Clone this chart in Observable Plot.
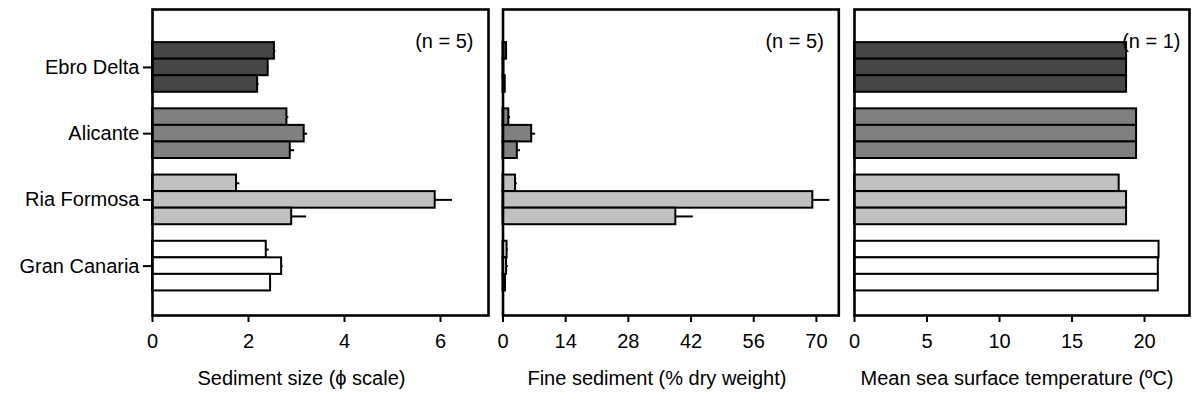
<!DOCTYPE html>
<html>
<head>
<meta charset="utf-8">
<script src="https://cdn.jsdelivr.net/npm/d3@7"></script>
<script src="https://cdn.jsdelivr.net/npm/@observablehq/plot@0.6"></script>
<style>
  html, body { margin: 0; padding: 0; background: #fff; }
  #chart { display: flex; flex-direction: row; width: 1195px; height: 400px; }
  svg { font-family: "Liberation Sans", Arial, sans-serif; }
</style>
</head>
<body>
<div id="chart"></div>
<script>
// ---- data ----
const sites = ["Ebro Delta", "Alicante", "Ria Formosa", "Gran Canaria"];
const siteColors = ["#464646", "#808080", "#c0c0c0", "#ffffff"];

// Sediment size (phi scale), 3 bars per site, mean and error
const sedSize    = [[2.54, 2.41, 2.19], [2.80, 3.16, 2.87], [1.75, 5.89, 2.90], [2.37, 2.69, 2.46]];
const sedSizeErr = [[0.03, 0.02, 0.03], [0.04, 0.07, 0.09], [0.07, 0.36, 0.31], [0.06, 0.03, 0.02]];

// Fine sediment (% dry weight)
const fines    = [[0.8, 0.2, 0.5], [1.3, 6.4, 3.2], [2.8, 69.2, 38.6], [0.9, 0.8, 0.55]];
const finesErr = [[0.1, 0.1, 0.1], [0.4, 0.9, 0.7], [0.4, 3.8, 3.9], [0.3, 0.4, 0.25]];

// Mean sea surface temperature (ºC), n = 1, no error
const sst    = [[18.76, 18.76, 18.76], [19.45, 19.45, 19.45], [18.25, 18.76, 18.76], [21.0, 20.95, 20.95]];

const ticks1 = [0, 2, 4, 6];
const ticks2 = [0, 14, 28, 42, 56, 70];
const ticks3 = [0, 5, 10, 15, 20];

const labels = ["Sediment size (\u03D5 scale)", "Fine sediment (% dry weight)", "Mean sea surface temperature (\u00BAC)"];
const nLabels = ["(n = 5)", "(n = 5)", "(n = 1)"];

// ---- build rows ----
function rows(values, errs) {
  const out = [];
  sites.forEach((s, i) => values[i].forEach((v, j) => {
    out.push({site: s, key: s + "|" + j, value: v, err: errs ? errs[i][j] : 0});
  }));
  return out;
}
// band domain: two top spacers, groups of 3 separated by a spacer, one bottom spacer
const yDomain = ["pad0", "pad1"];
sites.forEach((s, i) => {
  if (i > 0) yDomain.push("gap" + i);
  for (let j = 0; j < 3; j++) yDomain.push(s + "|" + j);
});
yDomain.push("padEnd");
const midKeys = sites.map(s => s + "|1");

const FS = 20;

function panel({data, xDomain, xTicks, label, labelDx, nLabel, nDx, width, ml, mr, yAxis, hasErr}) {
  const marks = [
    Plot.barX(data, {x: "value", y: "key", fill: "site", stroke: "black", strokeWidth: 2}),
  ];
  if (hasErr) {
    marks.push(Plot.ruleY(data, {y: "key", x1: "value", x2: d => d.value + d.err, stroke: "black", strokeWidth: 2}));
  }
  marks.push(
    Plot.frame({stroke: "black", strokeWidth: 2.6}),
    Plot.axisX({ticks: xTicks, tickFormat: d => String(d), tickSize: 7, tickPadding: 11, strokeWidth: 2, label: null, fontSize: FS}),
    Plot.text([nLabel], {frameAnchor: "top-right", dx: nDx, dy: 24, textAnchor: "end", fontSize: FS}),
    Plot.text([label], {frameAnchor: "bottom", dx: labelDx, dy: 69, fontSize: FS})
  );
  if (yAxis) {
    marks.push(Plot.axisY({ticks: midKeys, tickFormat: k => k.split("|")[0], tickSize: 9, tickPadding: 4, strokeWidth: 2, label: null, fontSize: FS}));
  } else {
    marks.push(Plot.axisY({ticks: [], label: null}));
  }
  return Plot.plot({
    width, height: 400,
    marginTop: 9, marginBottom: 85, marginLeft: ml, marginRight: mr,
    style: {fontFamily: "Liberation Sans, Arial, sans-serif", fontSize: FS + "px", color: "black", background: "white"},
    x: {domain: xDomain},
    y: {domain: yDomain, padding: 0, round: false, insetBottom: 8},
    color: {domain: sites, range: siteColors},
    marks
  });
}

const chart = document.getElementById("chart");
chart.append(panel({data: rows(sedSize, sedSizeErr), xDomain: [0, 7], xTicks: ticks1, label: labels[0], labelDx: -19,
  nLabel: nLabels[0], nDx: -15, width: 495, ml: 152, mr: 7, yAxis: true, hasErr: true}));
chart.append(panel({data: rows(fines, finesErr), xDomain: [0, 75], xTicks: ticks2, label: labels[1], labelDx: -14,
  nLabel: nLabels[1], nDx: -15, width: 350, ml: 7.5, mr: 6.7, yAxis: false, hasErr: true}));
chart.append(panel({data: rows(sst, null), xDomain: [0, 23.1], xTicks: ticks3, label: labels[2], labelDx: -5,
  nLabel: nLabels[2], nDx: -9, width: 350, ml: 9, mr: 6, yAxis: false, hasErr: false}));
</script>
</body>
</html>
